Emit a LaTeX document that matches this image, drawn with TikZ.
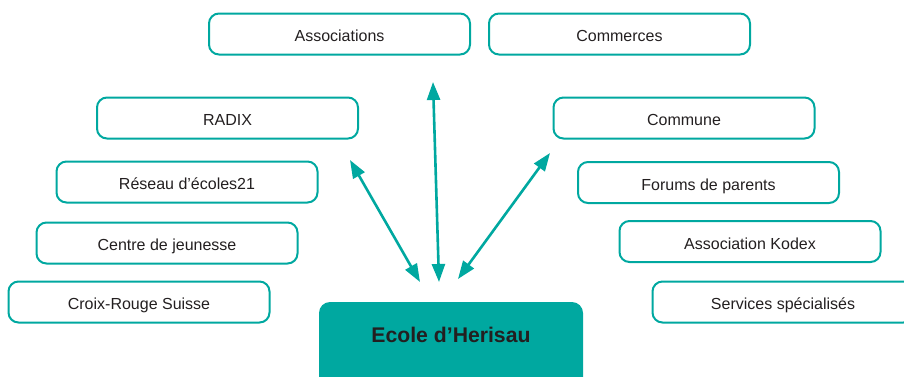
\documentclass[tikz,border=0pt]{standalone}
\usepackage{fontspec}
\setmainfont{Liberation Sans}
\usetikzlibrary{arrows.meta}
\definecolor{teal1}{RGB}{0,168,160}
\definecolor{txt}{RGB}{35,31,32}
\tikzset{
  partner/.style={draw=teal1, line width=2pt, rounded corners=10pt, minimum width=261pt, minimum height=41pt, inner sep=0pt, text=txt, text height=17.6pt, text depth=2pt, font=\fontsize{16}{19}\selectfont},
  school/.style={fill=teal1, draw=none, rounded corners=11pt, minimum width=264pt, minimum height=100pt, inner sep=0pt},
  schooltxt/.style={text=txt, font=\fontsize{21.2}{25}\selectfont\bfseries, inner sep=0pt},
  link/.style={draw=teal1, line width=2.6pt, {Triangle[length=18pt,width=13pt]}-{Triangle[length=18pt,width=13pt]}}
}
\begin{document}
\begin{tikzpicture}[x=1pt,y=-1pt]
\useasboundingbox (0,0) rectangle (904,376);
\clip (0,0) rectangle (904,376);
\node[partner] (assoc) at (339.5,34) {Associations};
\node[partner] (comm) at (619.5,34) {Commerces};
\node[partner] (radix) at (227.5,118) {RADIX};
\node[partner] (commune) at (684,118) {Commune};
\node[partner] (reseau) at (187,182) {Réseau d’écoles21};
\node[partner] (forums) at (708.5,182.5) {Forums de parents};
\node[partner] (centre) at (167,243) {Centre de jeunesse};
\node[partner] (kodex) at (750,241.5) {Association Kodex};
\node[partner] (croix) at (139,302) {Croix-Rouge Suisse};
\node[partner] (services) at (783,302) {Services spécialisés};
\node[school] (ecole) at (451,352) {};
\node[schooltxt] (ecolelbl) at (451,335) {Ecole d’Herisau};
\coordinate (l1) at (350,160);
\coordinate (l2) at (420,282);
\coordinate (m1) at (433,82);
\coordinate (m2) at (439,282);
\coordinate (r1) at (550,153);
\coordinate (r2) at (458,279);
\draw[link] (l1) -- (l2);
\draw[link] (m1) -- (m2);
\draw[link] (r1) -- (r2);
\end{tikzpicture}
\end{document}
